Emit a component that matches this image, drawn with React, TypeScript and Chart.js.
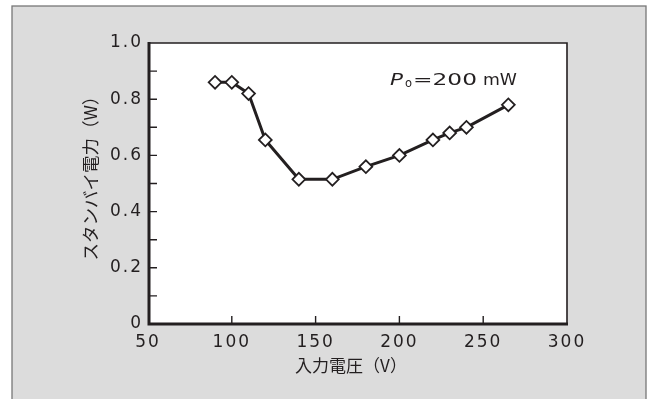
import React, { useEffect, useRef } from 'react';
import { Chart, registerables } from 'chart.js';

Chart.register(...registerables);

// ---- data ----
const inputVoltage = [90, 100, 110, 120, 140, 160, 180, 200, 220, 230, 240, 265];
const standbyPower = [0.86, 0.86, 0.82, 0.655, 0.515, 0.515, 0.56, 0.6, 0.655, 0.68, 0.7, 0.78];
const xTickValues = [50, 100, 150, 200, 250, 300];
const yTickValues = [0, 0.2, 0.4, 0.6, 0.8, 1.0];
const yMinorTickValues = [0.1, 0.2, 0.3, 0.4, 0.5, 0.6, 0.7, 0.8, 0.9];
const xInnerTickValues = [100, 150, 200, 250];
const xTitle = '入力電圧（V）';
const yTitle = 'スタンバイ電力（W）';
const noteSymbol = 'P';
const noteSub = 'o';
const noteValue = '=200';
const noteUnit = 'mW';

const INK = '#231f20';
const CJK = '"Noto Sans CJK JP", sans-serif';
const LATIN = '"DejaVu Sans", sans-serif';

const framePlugin = {
  id: 'frame',
  beforeDraw(chart: any) {
    const ctx = chart.ctx as CanvasRenderingContext2D;
    const { left, top, right, bottom } = chart.chartArea;
    ctx.save();
    ctx.fillStyle = '#ffffff';
    ctx.fillRect(0, 0, chart.width, chart.height);
    ctx.fillStyle = '#dcdcdc';
    ctx.fillRect(12, 6, 634, 400);
    ctx.strokeStyle = '#777777';
    ctx.lineWidth = 1.3;
    ctx.strokeRect(12, 6, 634, 400);
    ctx.fillStyle = '#ffffff';
    ctx.fillRect(left, top, right - left, bottom - top);
    ctx.restore();
    (ctx as any).letterSpacing = '2px';
  },
  afterDraw(chart: any) {
    const ctx = chart.ctx as CanvasRenderingContext2D;
    (ctx as any).letterSpacing = '0px';
    const { left, top, right, bottom } = chart.chartArea;
    const xs = chart.scales.x;
    const ys = chart.scales.y;
    ctx.save();
    ctx.strokeStyle = INK;
    // thin top/right
    ctx.lineWidth = 1.6;
    ctx.beginPath();
    ctx.moveTo(left, top);
    ctx.lineTo(right, top);
    ctx.lineTo(right, bottom);
    ctx.stroke();
    // thick left/bottom
    ctx.lineWidth = 3;
    ctx.beginPath();
    ctx.moveTo(left + 1, top - 1);
    ctx.lineTo(left + 1, bottom);
    ctx.lineTo(right + 1, bottom);
    ctx.stroke();
    // inward ticks
    ctx.lineWidth = 1.4;
    ctx.beginPath();
    for (const v of yMinorTickValues) {
      const y = ys.getPixelForValue(v);
      ctx.moveTo(left, y);
      ctx.lineTo(left + 9, y);
    }
    for (const v of xInnerTickValues) {
      const x = xs.getPixelForValue(v);
      ctx.moveTo(x, bottom);
      ctx.lineTo(x, bottom - 8);
    }
    ctx.stroke();

    // axis titles
    ctx.fillStyle = INK;
    ctx.textAlign = 'center';
    ctx.textBaseline = 'middle';
    ctx.font = `17px ${CJK}`;
    ctx.fillText(xTitle, 351, 366);
    ctx.save();
    ctx.translate(90, 174);
    ctx.rotate(-Math.PI / 2);
    ctx.font = `17.5px ${CJK}`;
    ctx.fillText(yTitle, 0, 0);
    ctx.restore();

    // annotation  P_o =200 mW
    ctx.textAlign = 'left';
    ctx.textBaseline = 'alphabetic';
    const base = 85;
    ctx.font = `italic 15.5px ${LATIN}`;
    const pw = ctx.measureText(noteSymbol).width;
    ctx.save();
    ctx.translate(390, base);
    ctx.scale(13 / pw, 1);
    ctx.fillText(noteSymbol, 0, 0);
    ctx.restore();
    ctx.font = `11.5px ${LATIN}`;
    ctx.fillText(noteSub, 405, base + 2);
    ctx.font = `15.5px ${LATIN}`;
    const vw = ctx.measureText(noteValue).width;
    ctx.save();
    ctx.translate(413, base);
    ctx.scale(64 / vw, 1);
    ctx.fillText(noteValue, 0, 0);
    ctx.restore();
    const uw = ctx.measureText(noteUnit).width;
    ctx.save();
    ctx.translate(483, base);
    ctx.scale(34 / uw, 1);
    ctx.fillText(noteUnit, 0, 0);
    ctx.restore();
    ctx.restore();
  },
};

export default function App() {
  const canvasRef = useRef<HTMLCanvasElement | null>(null);

  useEffect(() => {
    const canvas = canvasRef.current;
    if (!canvas) return;
    const chart = new Chart(canvas, {
      type: 'line',
      data: {
        datasets: [
          {
            data: inputVoltage.map((v, i) => ({ x: v, y: standbyPower[i] })),
            borderColor: INK,
            borderWidth: 3,
            pointStyle: 'rectRot',
            pointRadius: 6.4,
            pointBorderWidth: 1.8,
            pointBorderColor: INK,
            pointBackgroundColor: '#ffffff',
            tension: 0,
          },
        ],
      },
      options: {
        animation: false,
        responsive: false,
        devicePixelRatio: 1,
        layout: { padding: { top: 43, right: 81, left: 0, bottom: 0 } },
        plugins: {
          legend: { display: false },
          tooltip: { enabled: false },
        },
        scales: {
          x: {
            type: 'linear',
            min: 50,
            max: 300,
            afterBuildTicks: (s: any) => {
              s.ticks = xTickValues.map((value) => ({ value }));
            },
            grid: { display: false, drawTicks: false },
            border: { display: false },
            ticks: {
              autoSkip: false,
              maxRotation: 0,
              padding: 8,
              color: INK,
              font: { family: LATIN, size: 17 },
            },
            afterFit: (s: any) => {
              s.height = 75;
            },
          },
          y: {
            type: 'linear',
            min: 0,
            max: 1,
            afterBuildTicks: (s: any) => {
              s.ticks = yTickValues.map((value) => ({ value }));
            },
            grid: { display: false, drawTicks: false },
            border: { display: false },
            ticks: {
              padding: 5,
              color: INK,
              font: { family: LATIN, size: 17 },
              callback: (v: any) => (Number(v) === 0 ? '0' : Number(v).toFixed(1)),
            },
            afterFit: (s: any) => {
              s.width = 148;
            },
          },
        },
      } as any,
      plugins: [framePlugin],
    });
    return () => chart.destroy();
  }, []);

  return (
    <div style={{ position: 'fixed', left: 0, top: 0, width: 648, height: 399, background: '#fff' }}>
      <canvas ref={canvasRef} width={648} height={399} style={{ display: 'block', width: 648, height: 399 }} />
    </div>
  );
}
